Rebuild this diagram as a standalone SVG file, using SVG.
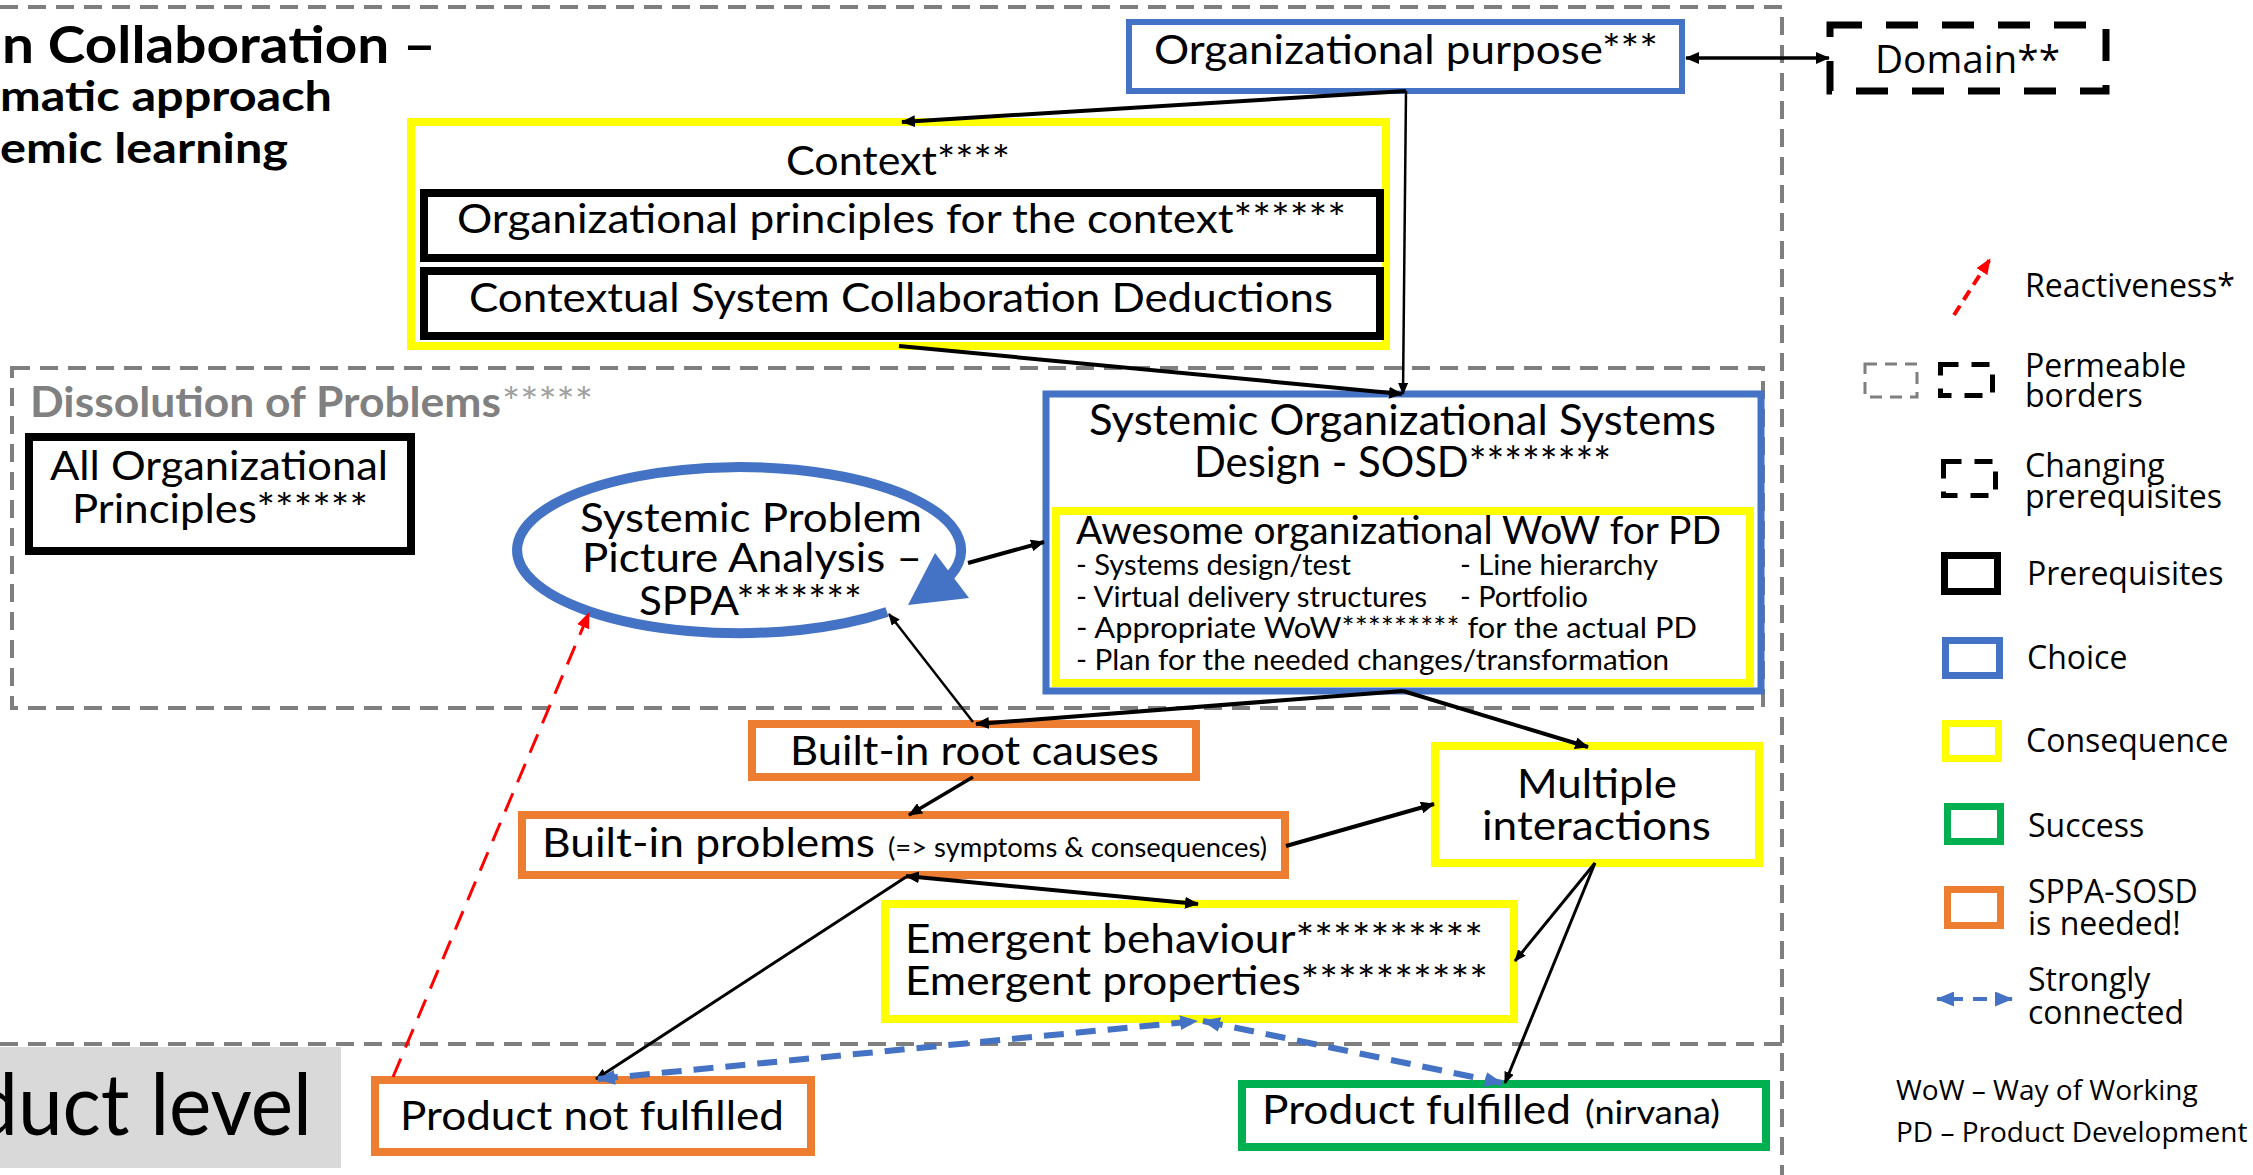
<svg xmlns="http://www.w3.org/2000/svg" width="2253" height="1175" viewBox="0 0 2253 1175">
<style>
.t{font-family:Lato,"Liberation Sans",sans-serif;fill:#000}
.tb{font-family:Lato,"Liberation Sans",sans-serif;font-weight:bold;fill:#000}
.lg{font-family:"Open Sans","Liberation Sans",sans-serif;fill:#000}
.blue{stroke:#4472c4;stroke-width:7;fill:#fff}
.yel{stroke:#ffff00;stroke-width:8;fill:#fff}
.blk{stroke:#000;stroke-width:8;fill:#fff}
.org{stroke:#ed7d31;stroke-width:8;fill:#fff}
.grn{stroke:#00b050;stroke-width:8;fill:#fff}
.gdash{stroke:#7f7f7f;stroke-width:4;fill:none;stroke-dasharray:18 10}
.c{stroke:#000;fill:none}
</style>
<defs>
<marker id="ah" viewBox="0 0 14 12" refX="13" refY="6" markerWidth="14" markerHeight="12" markerUnits="userSpaceOnUse" orient="auto-start-reverse"><path d="M0,0 L14,6 L0,12 z" fill="#000"/></marker>
<marker id="ahs" viewBox="0 0 12 10" refX="11" refY="5" markerWidth="12" markerHeight="10" markerUnits="userSpaceOnUse" orient="auto-start-reverse"><path d="M0,0 L12,5 L0,10 z" fill="#000"/></marker>
<marker id="ahb" viewBox="0 0 18 15" refX="17" refY="7.5" markerWidth="18" markerHeight="15" markerUnits="userSpaceOnUse" orient="auto-start-reverse"><path d="M0,0 L18,7.5 L0,15 z" fill="#4472c4"/></marker>
<marker id="ahr" viewBox="0 0 16 13" refX="15" refY="6.5" markerWidth="16" markerHeight="13" markerUnits="userSpaceOnUse" orient="auto-start-reverse"><path d="M0,0 L16,6.5 L0,13 z" fill="#ff0000"/></marker>
</defs>
<rect x="0" y="0" width="2253" height="1175" fill="#fff"/>

<g id="frames">
<path class="gdash" d="M0,7 H1782 V1175"/>
<path class="gdash" d="M0,1044 H1782"/>
<rect class="gdash" x="12" y="368" width="1751" height="340"/>
<rect x="0" y="1047" width="341" height="121" fill="#d9d9d9"/>
<text class="t" x="-27" y="1135" font-size="86" textLength="339" lengthAdjust="spacingAndGlyphs">duct level</text>
</g>

<g id="title">
<text class="tb" x="2" y="63" font-size="52" textLength="434" lengthAdjust="spacingAndGlyphs">n Collaboration –</text>
<text class="tb" x="0" y="111" font-size="42" textLength="332" lengthAdjust="spacingAndGlyphs">matic approach</text>
<text class="tb" x="0" y="163" font-size="42" textLength="288" lengthAdjust="spacingAndGlyphs">emic learning</text>
</g>

<g id="dissolution-label">
<text class="tb" x="30" y="417" font-size="42" style="fill:#808080" textLength="471" lengthAdjust="spacingAndGlyphs">Dissolution of Problems</text>
<text class="t" x="502" y="417" font-size="40" style="fill:#a0a0a0" textLength="91" lengthAdjust="spacingAndGlyphs">*****</text>
</g>

<g id="org-purpose">
<rect class="blue" x="1129" y="22" width="553" height="69" style="stroke-width:6"/>
<text class="t" x="1154" y="64" font-size="41" textLength="504" lengthAdjust="spacingAndGlyphs">Organizational purpose***</text>
</g>

<g id="domain">
<rect x="1830" y="25" width="276" height="66" fill="#fff" stroke="#000" stroke-width="7" stroke-dasharray="32 24"/>
<text class="lg" x="1875" y="73" font-size="39" textLength="185" lengthAdjust="spacingAndGlyphs">Domain**</text>
</g>

<g id="context">
<rect class="yel" x="411" y="122" width="975" height="224"/>
<text class="t" x="786" y="175" font-size="41" textLength="224" lengthAdjust="spacingAndGlyphs">Context****</text>
</g>
<g id="org-principles-context">
<rect class="blk" x="424" y="193" width="956" height="65"/>
<text class="t" x="457" y="233" font-size="41" textLength="889" lengthAdjust="spacingAndGlyphs">Organizational principles for the context******</text>
</g>
<g id="contextual-deductions">
<rect class="blk" x="424" y="271" width="956" height="65"/>
<text class="t" x="469" y="312" font-size="41" textLength="864" lengthAdjust="spacingAndGlyphs">Contextual System Collaboration Deductions</text>
</g>

<g id="all-org-principles">
<rect class="blk" x="29" y="437" width="382" height="114"/>
<text class="t" x="50" y="480" font-size="41" textLength="338" lengthAdjust="spacingAndGlyphs">All Organizational</text>
<text class="t" x="72" y="523" font-size="41" textLength="296" lengthAdjust="spacingAndGlyphs">Principles******</text>
</g>

<g id="sppa">
<ellipse cx="744" cy="549" rx="222" ry="83" fill="#fff"/>
<path d="M887,612 A222,83 0 1 1 950,576" fill="none" stroke="#4472c4" stroke-width="10"/>
<polygon points="935,553 969,598 908,605" fill="#4472c4"/>
<text class="t" x="580" y="532" font-size="41" textLength="342" lengthAdjust="spacingAndGlyphs">Systemic Problem</text>
<text class="t" x="582" y="572" font-size="41" textLength="340" lengthAdjust="spacingAndGlyphs">Picture Analysis –</text>
<text class="t" x="639" y="615" font-size="41" textLength="223" lengthAdjust="spacingAndGlyphs">SPPA*******</text>
</g>

<g id="sosd">
<rect class="blue" x="1046" y="394" width="715" height="297"/>
<text class="t" x="1089" y="435" font-size="42" textLength="627" lengthAdjust="spacingAndGlyphs">Systemic Organizational Systems</text>
<text class="t" x="1194" y="477" font-size="42" textLength="417" lengthAdjust="spacingAndGlyphs">Design - SOSD********</text>
</g>
<g id="awesome-wow">
<rect class="yel" x="1056" y="511" width="694" height="172"/>
<text class="t" x="1076" y="544" font-size="38" textLength="645" lengthAdjust="spacingAndGlyphs">Awesome organizational WoW for PD</text>
<text class="t" x="1076" y="575" font-size="29" textLength="275" lengthAdjust="spacingAndGlyphs">- Systems design/test</text>
<text class="t" x="1460" y="575" font-size="29" textLength="198" lengthAdjust="spacingAndGlyphs">- Line hierarchy</text>
<text class="t" x="1076" y="607" font-size="29" textLength="351" lengthAdjust="spacingAndGlyphs">- Virtual delivery structures</text>
<text class="t" x="1460" y="607" font-size="29" textLength="128" lengthAdjust="spacingAndGlyphs">- Portfolio</text>
<text class="t" x="1076" y="638" font-size="29" textLength="621" lengthAdjust="spacingAndGlyphs">- Appropriate WoW********* for the actual PD</text>
<text class="t" x="1076" y="670" font-size="29" textLength="593" lengthAdjust="spacingAndGlyphs">- Plan for the needed changes/transformation</text>
</g>

<g id="root-causes">
<rect class="org" x="752" y="724" width="444" height="53"/>
<text class="t" x="790" y="765" font-size="41" textLength="369" lengthAdjust="spacingAndGlyphs">Built-in root causes</text>
</g>

<g id="built-in-problems">
<rect class="org" x="522" y="815" width="763" height="60"/>
<text class="t" x="542" y="857" font-size="41" textLength="333" lengthAdjust="spacingAndGlyphs">Built-in problems</text>
<text class="t" x="888" y="857" font-size="26" textLength="379" lengthAdjust="spacingAndGlyphs">(=&gt; symptoms &amp; consequences)</text>
</g>

<g id="multiple-interactions">
<rect class="yel" x="1435" y="746" width="324" height="117"/>
<text class="t" x="1517" y="798" font-size="41" textLength="160" lengthAdjust="spacingAndGlyphs">Multiple</text>
<text class="t" x="1482" y="840" font-size="41" textLength="229" lengthAdjust="spacingAndGlyphs">interactions</text>
</g>

<g id="emergent">
<rect class="yel" x="885" y="904" width="629" height="115"/>
<text class="t" x="905" y="953" font-size="41" textLength="578" lengthAdjust="spacingAndGlyphs">Emergent behaviour**********</text>
<text class="t" x="905" y="995" font-size="41" textLength="583" lengthAdjust="spacingAndGlyphs">Emergent properties**********</text>
</g>

<g id="product-not-fulfilled">
<rect class="org" x="375" y="1080" width="436" height="72"/>
<text class="t" x="400" y="1130" font-size="41" textLength="384" lengthAdjust="spacingAndGlyphs">Product not fulfilled</text>
</g>

<g id="product-fulfilled">
<rect class="grn" x="1242" y="1084" width="524" height="63"/>
<text class="t" x="1262" y="1124" font-size="41" textLength="309" lengthAdjust="spacingAndGlyphs">Product fulfilled</text>
<text class="t" x="1585" y="1124" font-size="33" textLength="135" lengthAdjust="spacingAndGlyphs">(nirvana)</text>
</g>

<g id="connectors">
<line class="c" x1="1686" y1="58" x2="1829" y2="58" stroke-width="3.5" marker-start="url(#ah)" marker-end="url(#ah)"/>
<line class="c" x1="1406" y1="91" x2="902" y2="122" stroke-width="4" marker-end="url(#ah)"/>
<line class="c" x1="1406" y1="91" x2="1403" y2="394" stroke-width="2.5" marker-end="url(#ahs)"/>
<line class="c" x1="899" y1="346" x2="1402" y2="394" stroke-width="4" marker-end="url(#ah)"/>
<line class="c" x1="968" y1="563" x2="1044" y2="542" stroke-width="4" marker-end="url(#ah)"/>
<line class="c" x1="1403" y1="691" x2="976" y2="724" stroke-width="4" marker-end="url(#ah)"/>
<line class="c" x1="1403" y1="691" x2="1588" y2="747" stroke-width="4" marker-end="url(#ah)"/>
<line class="c" x1="973" y1="722" x2="889" y2="614" stroke-width="2.5" marker-end="url(#ahs)"/>
<line class="c" x1="973" y1="777" x2="909" y2="815" stroke-width="3.5" marker-end="url(#ah)"/>
<line class="c" x1="1286" y1="846" x2="1434" y2="804" stroke-width="4" marker-end="url(#ah)"/>
<line class="c" x1="906" y1="876" x2="1198" y2="904" stroke-width="4" marker-start="url(#ah)" marker-end="url(#ah)"/>
<line class="c" x1="906" y1="877" x2="596" y2="1079" stroke-width="3" marker-end="url(#ahs)"/>
<line class="c" x1="1595" y1="863" x2="1515" y2="961" stroke-width="3" marker-end="url(#ahs)"/>
<line class="c" x1="1595" y1="863" x2="1505" y2="1083" stroke-width="3" marker-end="url(#ahs)"/>
<line x1="598" y1="1079" x2="1197" y2="1021" stroke="#4472c4" stroke-width="6" stroke-dasharray="20 12" marker-start="url(#ahb)" marker-end="url(#ahb)"/>
<line x1="1203" y1="1021" x2="1502" y2="1083" stroke="#4472c4" stroke-width="6" stroke-dasharray="20 12" marker-start="url(#ahb)" marker-end="url(#ahb)"/>
<line x1="393" y1="1077" x2="589" y2="613" stroke="#ff0000" stroke-width="3" stroke-dasharray="20 12" marker-end="url(#ahr)"/>
</g>

<g id="legend">
<line x1="1954" y1="315" x2="1990" y2="259" stroke="#ff0000" stroke-width="4" stroke-dasharray="11 7" marker-end="url(#ahr)"/>
<text class="lg" x="2025" y="297" font-size="32">Reactiveness*</text>
<rect x="1865" y="364" width="52" height="33" fill="none" stroke="#7f7f7f" stroke-width="3" stroke-dasharray="12 8"/>
<rect x="1940.5" y="364.5" width="52" height="31" fill="none" stroke="#000" stroke-width="5" stroke-dasharray="18 13"/>
<text class="lg" x="2025" y="377" font-size="32">Permeable</text>
<text class="lg" x="2025" y="407" font-size="32">borders</text>
<rect x="1943.5" y="461.5" width="52" height="34" fill="none" stroke="#000" stroke-width="5" stroke-dasharray="18 13"/>
<text class="lg" x="2025" y="477" font-size="32">Changing</text>
<text class="lg" x="2025" y="508" font-size="32">prerequisites</text>
<rect x="1944.5" y="555.5" width="53" height="36" fill="none" stroke="#000" stroke-width="7"/>
<text class="lg" x="2027" y="585" font-size="32">Prerequisites</text>
<rect x="1945.5" y="640.5" width="54" height="35" fill="none" stroke="#4472c4" stroke-width="7"/>
<text class="lg" x="2027" y="669" font-size="32">Choice</text>
<rect x="1945.5" y="723.5" width="53" height="35" fill="none" stroke="#ffff00" stroke-width="7"/>
<text class="lg" x="2026" y="752" font-size="32">Consequence</text>
<rect x="1947.5" y="806.5" width="53" height="35" fill="none" stroke="#00b050" stroke-width="7"/>
<text class="lg" x="2028" y="837" font-size="32">Success</text>
<rect x="1947.5" y="889.5" width="53" height="36" fill="none" stroke="#ed7d31" stroke-width="7"/>
<text class="lg" x="2028" y="903" font-size="32">SPPA-SOSD</text>
<text class="lg" x="2028" y="935" font-size="32">is needed!</text>
<line x1="1937" y1="999" x2="2012" y2="999" stroke="#4472c4" stroke-width="4" stroke-dasharray="26 10 14 10 30" marker-start="url(#ahb)" marker-end="url(#ahb)"/>
<text class="lg" x="2028" y="991" font-size="32">Strongly</text>
<text class="lg" x="2028" y="1024" font-size="32">connected</text>
<text class="lg" x="1896" y="1100" font-size="28">WoW – Way of Working</text>
<text class="lg" x="1896" y="1142" font-size="28">PD – Product Development</text>
</g>
</svg>
